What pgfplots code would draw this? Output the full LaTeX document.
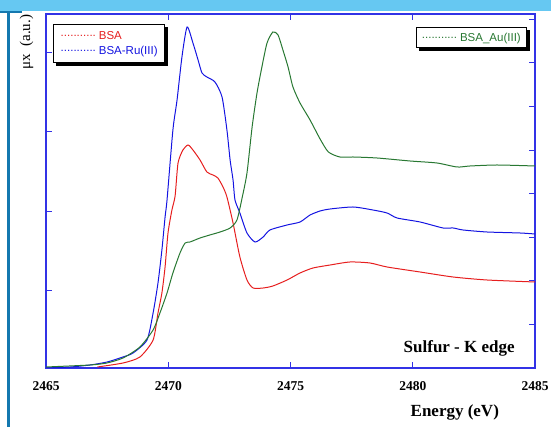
\documentclass[border=0pt]{standalone}
\usepackage{pgfplots}
\pgfplotsset{compat=1.18}
\usepackage{fontspec}
\setmainfont{Liberation Serif}
\newfontfamily\arialfont{Liberation Sans}
\usetikzlibrary{backgrounds}
\definecolor{cred}{RGB}{230,30,30}
\definecolor{cblue}{RGB}{20,20,225}
\definecolor{cgreen}{RGB}{40,120,50}
\definecolor{caxis}{RGB}{50,50,230}
\definecolor{cbar}{RGB}{102,200,242}
\definecolor{cside}{RGB}{20,120,175}
\newcommand{\dline}[1]{\textcolor{#1}{\raisebox{3pt}{...........}}\hspace{3pt}}
\begin{document}
\begin{tikzpicture}[x=1pt,y=1pt]
\path[use as bounding box] (0,0) rectangle (551,427);
\fill[cbar] (0,416) rectangle (551,427);
\fill[cside] (0,414) rectangle (22,416);
\fill[cside] (7,0) rectangle (9.5,416);
\pgfplotsset{
  mybase/.style={
    at={(46pt,59pt)}, anchor=south west, scale only axis,
    width=489pt, height=354pt,
    xmin=2465, xmax=2485, ymin=0, ymax=354,
    axis line style={caxis, line width=1.2pt},
    tick style={caxis, line width=1pt, major tick length=6pt},
    tick align=inside,
    /pgf/number format/assume math mode=true,
    /pgf/number format/set thousands separator={},
  }
}
\begin{axis}[mybase,
  xtick={2465,2470,2475,2480,2485},
  xtick pos=both,
  xticklabel pos=bottom,
  xticklabel style={font=\bfseries\fontsize{13.5}{13.5}\selectfont, yshift=-10pt},
  ytick={77,156,236,315}, yticklabels={}, ytick pos=left,
  xlabel={Energy (eV)},
  xlabel style={font=\bfseries\fontsize{17}{17}\selectfont, at={(axis description cs:0.836,-0.127)}, anchor=center},
  ylabel={μx\ \ (a.u.)},
  ylabel style={font=\fontsize{15}{15}\selectfont, at={(axis description cs:-0.04,0.92)}, anchor=center},
  legend style={name=legA, at={(axis description cs:0.015,0.972)}, anchor=north west,
    draw=black, line width=0.8pt, fill=white,
    font=\arialfont\fontsize{11.5}{13}\selectfont, inner xsep=5pt, inner ysep=5pt, row sep=1pt,
    /tikz/every odd column/.append style={column sep=0pt}},
  legend cell align=left,
]
\addlegendimage{legend image code/.code={}}
\addlegendentry{\dline{cred}\textcolor{cred}{BSA}}
\addlegendimage{legend image code/.code={}}
\addlegendentry{\dline{cblue}\textcolor{cblue}{BSA-Ru(III)}}
\addplot[cred, line width=1pt, forget plot, smooth, tension=0.4] coordinates {
(2467.1,1) (2468.15,5) (2468.84,11) (2469.38,28) (2469.58,55) (2469.74,75)
(2469.87,101) (2469.99,135) (2470.15,158) (2470.28,172) (2470.4,205) (2470.6,218)
(2470.81,223) (2471.01,218) (2471.3,208) (2471.58,196) (2471.83,193) (2472.03,190)
(2472.24,181) (2472.4,171) (2472.65,145) (2472.93,111) (2473.22,88) (2473.47,80)
(2473.88,80) (2474.28,82) (2474.86,88) (2475.39,95) (2475.92,100) (2476.62,103)
(2477.43,106) (2478.25,105) (2478.95,101) (2480.3,96) (2481.65,91) (2483.04,88) (2485,86)
};
\addplot[cblue, line width=1pt, forget plot, smooth, tension=0.4] coordinates {
(2465,0) (2466,1) (2466.8,3) (2467.5,6) (2468.15,11) (2468.56,15) (2469.13,28)
(2469.38,55) (2469.58,85) (2469.74,118) (2469.87,151) (2469.95,168) (2470.19,238)
(2470.36,268) (2470.56,311) (2470.77,341) (2471.01,325) (2471.22,308) (2471.38,295)
(2471.58,291) (2471.91,286) (2472.2,271) (2472.4,238) (2472.53,208) (2472.65,188)
(2472.73,168) (2472.93,155) (2473.22,135) (2473.55,126) (2473.88,131) (2474.16,138)
(2474.86,143) (2475.39,146) (2475.8,153) (2476.21,157) (2476.62,159) (2477.56,161)
(2478.37,158) (2478.95,155) (2479.36,150) (2480.3,146) (2481.24,140) (2481.65,140)
(2482.06,138) (2483.04,136) (2484.39,135) (2485,134)
};
\node[font=\bfseries\fontsize{17}{17}\selectfont] at (axis cs:2481.9,20) {Sulfur - K edge};
\end{axis}
\begin{axis}[mybase,
  axis line style={draw=none},
  xtick=\empty,
  ytick={43,87,130,174,217,261,305,348}, yticklabels={}, ytick pos=right,
  legend style={name=legB, at={(axis description cs:0.984,0.962)}, anchor=north east,
    draw=black, line width=0.8pt, fill=white,
    font=\arialfont\fontsize{11.5}{13}\selectfont, inner xsep=4pt, inner ysep=3pt,
    /tikz/every odd column/.append style={column sep=0pt}},
]
\addlegendimage{legend image code/.code={}}
\addlegendentry{\dline{cgreen}\textcolor{cgreen}{BSA\_Au(III)}}
\addplot[cgreen, line width=1pt, forget plot, smooth, tension=0.4] coordinates {
(2465,1) (2466.8,3) (2467.49,5) (2468.15,10) (2468.84,21) (2469.38,38) (2469.66,55)
(2469.95,75) (2470.19,95) (2470.48,115) (2470.69,125) (2470.89,126) (2471.3,130)
(2471.7,133) (2472.12,136) (2472.53,140) (2472.81,148) (2473.02,170) (2473.22,195)
(2473.43,241) (2473.63,275) (2473.83,301) (2474.04,325) (2474.28,336) (2474.49,333)
(2474.69,318) (2474.9,301) (2475.1,281) (2475.39,265) (2475.8,248) (2476.21,229)
(2476.55,216) (2477.02,211) (2477.56,211) (2478.54,210) (2479.89,207) (2480.99,205)
(2481.81,201) (2482.34,202) (2483.45,203) (2485,202)
};
\end{axis}
\begin{scope}[on background layer]
\fill[black] ([shift={(3pt,-3pt)}]legA.south west) rectangle ([shift={(3pt,-3pt)}]legA.north east);
\fill[black] ([shift={(3pt,-3pt)}]legB.south west) rectangle ([shift={(3pt,-3pt)}]legB.north east);
\end{scope}
\end{tikzpicture}
\end{document}
